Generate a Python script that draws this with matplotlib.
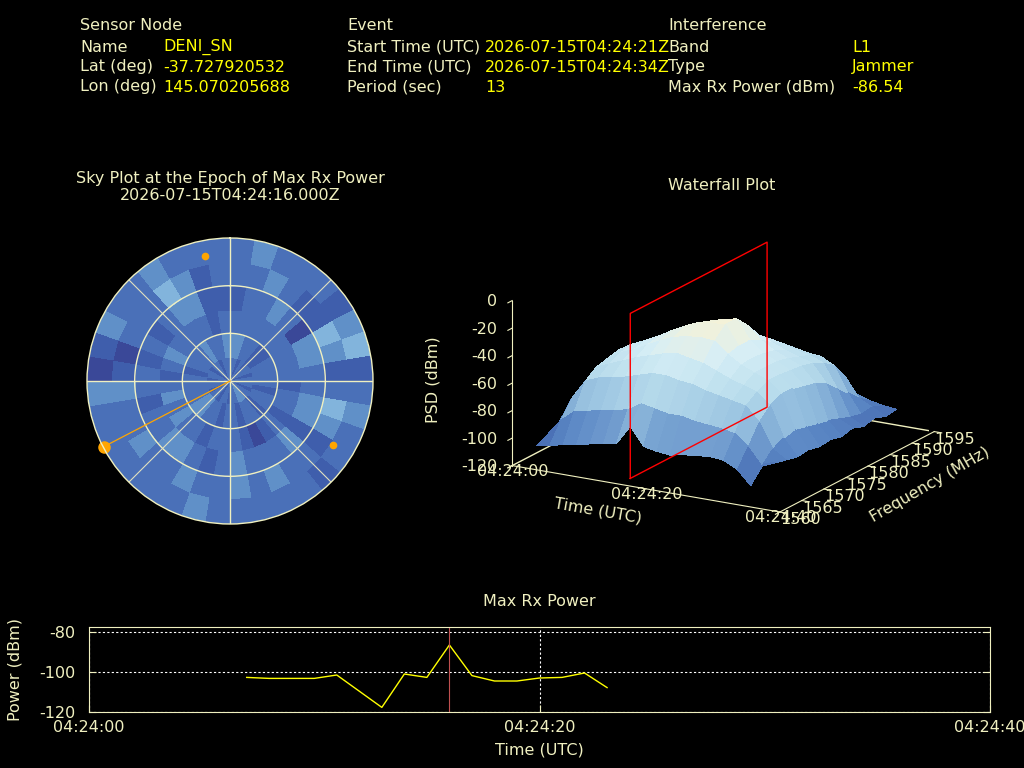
import numpy as np
import matplotlib
matplotlib.use("Agg")
import matplotlib.pyplot as plt
from matplotlib.colors import LinearSegmentedColormap

CREAM = "#f0f0c0"
YELLOW = "#ffff00"
ORANGE = "#ffa500"

# ---- header info ----
sensor_labels = ["Name", "Lat (deg)", "Lon (deg)"]
sensor_values = ["DENI_SN", "-37.727920532", "145.070205688"]
event_labels = ["Start Time (UTC)", "End Time (UTC)", "Period (sec)"]
event_values = ["2026-07-15T04:24:21Z", "2026-07-15T04:24:34Z", "13"]
intf_labels = ["Band", "Type", "Max Rx Power (dBm)"]
intf_values = ["L1", "Jammer", "-86.54"]

# ---- sky plot: 36 azimuth bins (10 deg, clockwise from N) x 6 zenith rings ----
sky_levels = [
    [2, 3, 2, 1, 2, 2], [2, 3, 2, 2, 2, 3], [1, 2, 2, 2, 3, 2], [2, 2, 2, 3, 2, 2],
    [1, 1, 2, 2, 1, 2], [2, 1, 2, 0, 1, 1], [2, 2, 2, 3, 4, 3], [1, 2, 2, 3, 3, 4],
    [2, 2, 2, 2, 1, 1], [2, 2, 1, 2, 2, 2], [2, 1, 2, 3, 4, 3], [1, 2, 2, 3, 3, 2],
    [2, 2, 1, 1, 1, 2], [2, 1, 2, 3, 2, 1], [3, 2, 1, 2, 2, 2], [3, 2, 0, 2, 3, 2],
    [2, 1, 1, 2, 2, 2], [2, 2, 2, 3, 3, 2], [1, 2, 2, 2, 2, 2], [2, 1, 2, 1, 2, 3],
    [2, 2, 1, 2, 3, 2], [1, 2, 2, 3, 2, 2], [2, 3, 2, 3, 2, 2], [2, 3, 3, 2, 3, 2],
    [1, 2, 2, 2, 2, 2], [2, 2, 3, 1, 2, 2], [2, 2, 2, 2, 3, 3], [1, 2, 1, 2, 1, 0],
    [2, 1, 2, 1, 0, 1], [2, 2, 3, 2, 2, 3], [1, 2, 2, 1, 2, 2], [2, 2, 2, 2, 2, 2],
    [2, 3, 2, 3, 4, 3], [1, 2, 2, 3, 3, 2], [2, 2, 1, 1, 1, 2], [2, 3, 2, 1, 2, 2],
]
sat_az = [348.7, 121.9]
sat_el = [10.0, 13.7]
jam_az = 242.5
jam_el = 0.5

# ---- waterfall ----
wf_time = [2, 4, 6, 8, 10, 12, 14, 16, 18, 20, 22, 24, 26, 28, 30, 32, 34, 36]
wf_freq = [1562.5, 1565, 1567.5, 1570, 1572.5, 1575, 1577.5, 1580, 1582.5, 1585, 1587.5, 1590, 1592.5]
wf_psd = [
    [-108, -104, -100, -98, -99, -97, -100, -102, -99, -101, -103, -100, -104],
    [-106, -92, -80, -74, -72, -70, -72, -75, -78, -80, -84, -90, -100],
    [-104, -84, -66, -60, -58, -56, -57, -60, -62, -64, -70, -80, -96],
    [-102, -82, -62, -56, -52, -50, -52, -54, -57, -60, -66, -78, -94],
    [-100, -80, -60, -52, -48, -46, -47, -50, -54, -58, -64, -76, -92],
    [-98, -78, -58, -48, -43, -41, -42, -46, -50, -55, -62, -74, -92],
    [-96, -76, -55, -45, -38, -35, -37, -42, -48, -53, -60, -72, -90],
    [-82, -70, -52, -42, -34, -30, -32, -38, -45, -52, -58, -70, -90],
    [-95, -72, -52, -40, -32, -27, -29, -36, -44, -50, -57, -70, -88],
    [-97, -74, -54, -42, -31, -25, -26, -34, -43, -50, -57, -70, -90],
    [-98, -74, -55, -44, -32, -24, -24, -33, -44, -51, -58, -71, -90],
    [-96, -76, -58, -48, -40, -38, -38, -42, -48, -53, -60, -72, -92],
    [-95, -77, -60, -52, -46, -45, -46, -48, -52, -56, -62, -74, -93],
    [-94, -78, -62, -55, -50, -50, -50, -52, -55, -58, -63, -76, -95],
    [-95, -80, -64, -58, -54, -54, -55, -56, -58, -62, -68, -80, -97],
    [-100, -88, -74, -66, -62, -62, -64, -66, -70, -78, -86, -94, -100],
    [-110, -100, -92, -88, -86, -88, -90, -92, -95, -98, -100, -99, -102],
    [-92, -96, -98, -100, -99, -101, -100, -102, -100, -103, -101, -104, -103],
]
epoch_t = 16
plane_freq = [1562.5, 1593.5]
plane_psd = [-120, 0]

# ---- max rx power timeline (seconds after 04:24:00) ----
pwr_t = [7, 8, 9, 10, 11, 13, 14, 15, 16, 17, 18, 19, 20, 21, 22, 23]
pwr_val = [-102.7, -103.2, -103.2, -103.2, -101.5, -117.7, -101.0, -102.7,
           -86.5, -101.8, -104.5, -104.5, -103.0, -102.7, -100.5, -107.8]
time_ticks = [0, 20, 40]
time_labels = ["04:24:00", "04:24:20", "04:24:40"]
freq_ticks = [1560, 1565, 1570, 1575, 1580, 1585, 1590, 1595]

plt.rcParams["font.family"] = "DejaVu Sans"
plt.rcParams["font.size"] = 11
plt.rcParams["axes.unicode_minus"] = False

fig = plt.figure(figsize=(10.24, 7.68), dpi=100, facecolor="black")

def px(x, y):
    return x / 1024, 1 - y / 768

# header
fs = 11.5
for x, t in [(80, "Sensor Node"), (347, "Event"), (668, "Interference")]:
    fig.text(*px(x, 26), t, color=CREAM, fontsize=fs, va="center")
for i in range(3):
    y = 47 + 20 * i
    fig.text(*px(80, y), sensor_labels[i], color=CREAM, fontsize=fs, va="center")
    fig.text(*px(163, y), sensor_values[i], color=YELLOW, fontsize=fs, va="center")
    fig.text(*px(347, y), event_labels[i], color=CREAM, fontsize=fs, va="center")
    fig.text(*px(485, y), event_values[i], color=YELLOW, fontsize=fs, va="center")
    fig.text(*px(668, y), intf_labels[i], color=CREAM, fontsize=fs, va="center")
    fig.text(*px(852, y), intf_values[i], color=YELLOW, fontsize=fs, va="center")

# ---- sky plot ----
sky_cmap = LinearSegmentedColormap.from_list(
    "sky", ["#3a4898", "#3f5eac", "#4a70b8", "#6090c8", "#82b4dc"])
axp = fig.add_axes([87 / 1024, 1 - 524 / 768, 286 / 1024, 286 / 768],
                   projection="polar", facecolor="black")
axp.set_theta_zero_location("N")
axp.set_theta_direction(-1)
th_edges = np.deg2rad(np.linspace(0, 360, len(sky_levels) + 1))
r_edges = np.linspace(0, 90, len(sky_levels[0]) + 1)
TH, R = np.meshgrid(th_edges, r_edges)
axp.pcolormesh(TH, R, np.array(sky_levels).T, cmap=sky_cmap, vmin=0, vmax=4,
               shading="flat")
axp.set_ylim(0, 90)
axp.grid(False)
axp.set_xticks([])
axp.set_yticks([])
axp.spines["polar"].set_color(CREAM)
axp.spines["polar"].set_linewidth(1)
circ = np.linspace(0, 2 * np.pi, 361)
for rr in [30, 60]:
    axp.plot(circ, np.full_like(circ, rr), color=CREAM, lw=1)
for a in range(0, 360, 90):
    axp.plot([np.deg2rad(a)] * 2, [0, 90], color=CREAM, lw=1)
for a in range(45, 360, 90):
    axp.plot([np.deg2rad(a)] * 2, [0, 90], color="#e0e0c0", lw=0.8)
axp.plot([np.deg2rad(jam_az)] * 2, [0, 90 - jam_el], color=ORANGE, lw=0.9)
axp.plot(np.deg2rad(sat_az), 90 - np.array(sat_el), "o", color=ORANGE, ms=4.5)
axp.plot([np.deg2rad(jam_az)], [90 - jam_el], "o", color=ORANGE, ms=8, clip_on=False)
fig.text(*px(230, 178), "Sky Plot at the Epoch of Max Rx Power", color=CREAM,
         fontsize=fs, ha="center", va="center")
fig.text(*px(230, 195), "2026-07-15T04:24:16.000Z", color=CREAM,
         fontsize=fs, ha="center", va="center")

# ---- waterfall ----
wf_cmap = LinearSegmentedColormap.from_list(
    "wf", ["#3a5aa6", "#5a86c4", "#8fbadc", "#b8dcec", "#d6eef6", "#f4f2d8"])
ax3 = fig.add_axes([0.4107, 0.2409, 0.58, 0.55], projection="3d", facecolor="black")
ax3.set_proj_type("ortho")
ax3.view_init(elev=17.5, azim=-60)
ax3.set_box_aspect((1, 1, 0.56), zoom=1.08)
ax3.computed_zorder = False
ax3.set_xlim(0, 40)
ax3.set_ylim(1560, 1595)
ax3.set_zlim(-120, 0)
X, Y = np.meshgrid(wf_time, wf_freq, indexing="ij")
Z = np.array(wf_psd, dtype=float)
# back edges of base (hidden by surface)
ax3.plot([0, 0], [1560, 1595], [-120, -120], color=CREAM, lw=1, zorder=1)
ax3.plot([0, 40], [1595, 1595], [-120, -120], color=CREAM, lw=1, zorder=1)
ax3.plot_surface(X, Y, Z, cmap=wf_cmap, vmin=-112, vmax=-25, linewidth=0,
                 antialiased=False, shade=False, rstride=1, cstride=1, zorder=2)
pf0, pf1 = plane_freq
pz0, pz1 = plane_psd
ax3.plot([epoch_t] * 5, [pf0, pf1, pf1, pf0, pf0], [pz0, pz0, pz1, pz1, pz0],
         color="red", lw=1, zorder=5)
for axis in (ax3.xaxis, ax3.yaxis, ax3.zaxis):
    axis.set_pane_color((0, 0, 0, 0))
    axis.line.set_color(CREAM)
    axis._axinfo["tick"]["color"] = CREAM
    axis._axinfo["tick"]["inward_factor"] = 0.35
    axis._axinfo["tick"]["outward_factor"] = 0.0
ax3.grid(False)
ax3.zaxis.set_ticks_position("lower")
ax3.set_xticks(time_ticks)
ax3.set_xticklabels(time_labels)
ax3.set_yticks(freq_ticks)
ax3.set_zticks([0, -20, -40, -60, -80, -100, -120])
ax3.tick_params(axis="both", colors=CREAM, labelsize=fs)
ax3.tick_params(axis="z", colors=CREAM, labelsize=fs, pad=-2.5)
ax3.tick_params(axis="x", pad=-9)
ax3.tick_params(axis="y", pad=-8)
for lbl in ax3.get_yticklabels():
    lbl.set_horizontalalignment("left")
for lbl in ax3.get_zticklabels():
    lbl.set_horizontalalignment("right")
    lbl.set_verticalalignment("center")
fig.text(*px(433, 380), "PSD (dBm)", color=CREAM, fontsize=fs, rotation=90,
         ha="center", va="center")
fig.text(*px(598, 511), "Time (UTC)", color=CREAM, fontsize=fs, rotation=-10,
         ha="center", va="center")
fig.text(*px(930, 485), "Frequency (MHz)", color=CREAM, fontsize=fs, rotation=30,
         ha="center", va="center")
fig.text(*px(722, 185), "Waterfall Plot", color=CREAM, fontsize=fs,
         ha="center", va="center")

# ---- max rx power ----
axl = fig.add_axes([89 / 1024, 1 - 712 / 768, 901 / 1024, 85 / 768], facecolor="black")
axl.plot(pwr_t, pwr_val, color=YELLOW, lw=1)
axl.axvline(epoch_t, color="#c05050", lw=0.8)
axl.set_xlim(0, 40)
axl.set_ylim(-120, -77.5)
axl.set_xticks(time_ticks)
axl.set_xticklabels(time_labels)
axl.set_yticks([-120, -100, -80])
axl.grid(True, color="white", ls=(0, (2, 2)), lw=0.8)
for s in axl.spines.values():
    s.set_color(CREAM)
axl.tick_params(colors=CREAM, labelsize=fs, direction="in", right=True, top=False,
                length=5)
axl.tick_params(axis="y", pad=10)
axl.tick_params(axis="x", pad=6)
axl.set_title("Max Rx Power", color=CREAM, fontsize=fs, pad=15)
axl.set_xlabel("Time (UTC)", color=CREAM, fontsize=fs, labelpad=5)
axl.set_ylabel("Power (dBm)", color=CREAM, fontsize=fs, labelpad=12)

fig.savefig("out.png", dpi=100, facecolor="black")
